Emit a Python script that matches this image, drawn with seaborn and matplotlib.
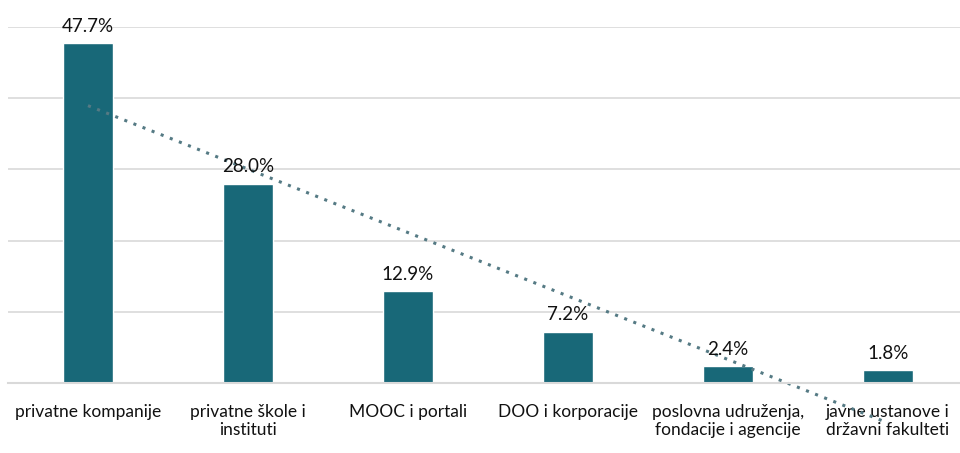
import numpy as np
import pandas as pd
import matplotlib
matplotlib.use("Agg")
import matplotlib.pyplot as plt
import seaborn as sns

categories = ["privatne kompanije", "privatne škole i\ninstituti", "MOOC i portali",
              "DOO i korporacije", "poslovna udruženja,\nfondacije i agencije",
              "javne ustanove i\ndržavni fakulteti"]
values = [47.7, 28.0, 12.9, 7.2, 2.4, 1.8]

sns.set_style("white")
plt.rcParams["font.family"] = ["Lato", "DejaVu Sans"]

df = pd.DataFrame({"cat": categories, "val": values})
df["pos"] = np.arange(len(df))

fig = plt.figure(figsize=(9.6, 4.53), dpi=100)
ax = fig.add_axes([8 / 960, 70 / 453, 960 / 960, (383 - 27) / 453])

ax.set_axisbelow(True)
ax.yaxis.grid(True, color="#d9d9d9", linewidth=1.2)
sns.barplot(data=df, x="cat", y="val", color="#186878", width=0.31,
            saturation=1, ax=ax)

for c in ax.containers:
    ax.bar_label(c, labels=[f"{v:.1f}%" for v in values], padding=6,
                 fontsize=13.5, color="#111111")

# linear trendline
sns.regplot(data=df, x="pos", y="val", scatter=False, ci=None, truncate=True,
            line_kws=dict(color="#557a84", linestyle=(0, (1, 2.2)),
                          linewidth=2.2, clip_on=False), ax=ax)

ax.set_ylim(0, 50)
ax.set_xlim(-0.5, 5.5)
ax.set_yticks([0, 10, 20, 30, 40, 50])
ax.set_yticklabels([])
ax.set_xticks(df["pos"])
ax.set_xticklabels(categories, fontsize=12.5, color="#111111", linespacing=1.15)
ax.tick_params(axis="x", length=0, pad=15)
ax.tick_params(axis="y", length=0, pad=0)
ax.set_xlabel("")
ax.set_ylabel("")
for s in ["top", "left", "right"]:
    ax.spines[s].set_visible(False)
ax.spines["bottom"].set_color("#d9d9d9")
ax.spines["bottom"].set_linewidth(1.5)

fig.savefig("out.png", dpi=100)
